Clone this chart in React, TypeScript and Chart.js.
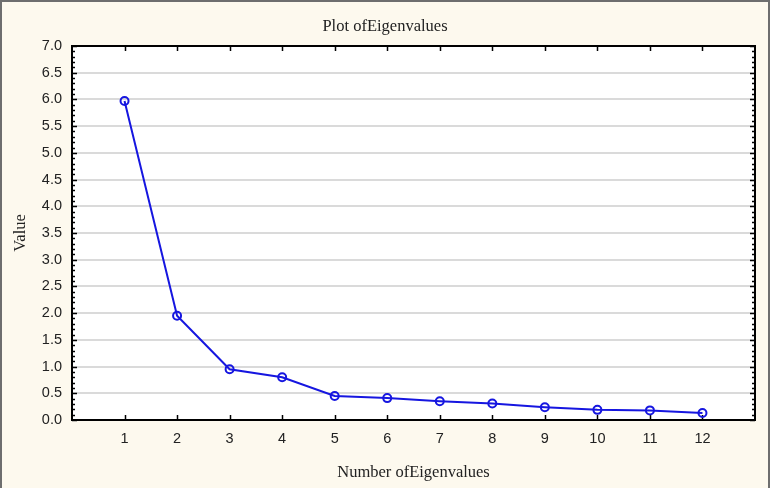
import React, { useEffect, useRef } from 'react';
import { Chart, registerables } from 'chart.js';

Chart.register(...registerables);

const categories = [1, 2, 3, 4, 5, 6, 7, 8, 9, 10, 11, 12];
const eigenvalues = [5.97, 1.95, 0.95, 0.8, 0.45, 0.41, 0.35, 0.31, 0.24, 0.19, 0.18, 0.13];
const yTickValues = [0, 0.5, 1, 1.5, 2, 2.5, 3, 3.5, 4, 4.5, 5, 5.5, 6, 6.5, 7];
const chartTitle = 'Plot ofEigenvalues';
const xTitle = 'Number ofEigenvalues';
const yTitle = 'Value';

const framePlugin = {
  id: 'framePlugin',
  beforeDraw(chart: any) {
    const { ctx, width, height, chartArea: a } = chart;
    ctx.save();
    ctx.fillStyle = '#FDF9EE';
    ctx.fillRect(0, 0, width, height);
    ctx.fillStyle = '#FFFFFF';
    ctx.fillRect(a.left, a.top, a.right - a.left, a.bottom - a.top);
    ctx.strokeStyle = '#6E6E6E';
    ctx.lineWidth = 2;
    ctx.beginPath();
    ctx.moveTo(1, height);
    ctx.lineTo(1, 1);
    ctx.lineTo(width - 1, 1);
    ctx.lineTo(width - 1, height);
    ctx.stroke();
    ctx.restore();
  },
  beforeDatasetsDraw(chart: any) {
    const { ctx, chartArea: a, scales } = chart;
    const xs = scales.x;
    const ys = scales.y;
    ctx.save();
    ctx.strokeStyle = '#000000';
    ctx.lineWidth = 1.5;
    ctx.beginPath();
    categories.forEach((c) => {
      const px = Math.round(xs.getPixelForValue(c)) + 0.5;
      ctx.moveTo(px, a.bottom);
      ctx.lineTo(px, a.bottom - 5);
      ctx.moveTo(px, a.top);
      ctx.lineTo(px, a.top + 5);
    });
    const minorCount = Math.round((ys.max - ys.min) * 10);
    for (let i = 0; i <= minorCount; i++) {
      const v = ys.min + i / 10;
      const py = Math.round(ys.getPixelForValue(v)) + 0.5;
      const len = i % 5 === 0 ? 5 : 3;
      ctx.moveTo(a.left, py);
      ctx.lineTo(a.left + len, py);
      ctx.moveTo(a.right, py);
      ctx.lineTo(a.right - len, py);
    }
    ctx.stroke();
    ctx.lineWidth = 2;
    ctx.strokeRect(a.left, a.top, a.right - a.left, a.bottom - a.top);
    ctx.restore();
  },
};

export default function App() {
  const canvasRef = useRef<HTMLCanvasElement | null>(null);

  useEffect(() => {
    if (!canvasRef.current) return;
    const chart = new Chart(canvasRef.current, {
      type: 'line',
      data: {
        datasets: [
          {
            label: 'Eigenvalues',
            data: categories.map((c, i) => ({ x: c, y: eigenvalues[i] })),
            borderColor: '#1616E0',
            borderWidth: 2,
            pointBackgroundColor: 'rgba(255,255,255,0)',
            pointBorderColor: '#1616E0',
            pointBorderWidth: 2,
            pointRadius: 4,
            tension: 0,
          },
        ],
      },
      options: {
        animation: false,
        responsive: false,
        devicePixelRatio: 1,
        layout: { padding: { left: 0, right: 0, top: 0, bottom: 0 } },
        plugins: {
          legend: { display: false },
          tooltip: { enabled: false },
          title: {
            display: true,
            text: chartTitle,
            color: '#222222',
            font: { family: 'Liberation Serif', size: 16.5, weight: 'normal' },
            padding: { top: 17, bottom: 9.2 },
          },
        },
        scales: {
          x: {
            type: 'linear',
            min: 0,
            max: 13,
            afterBuildTicks: (s: any) => {
              s.ticks = categories.map((v) => ({ value: v }));
            },
            afterFit: (s: any) => {
              s.height = 68;
            },
            grid: { display: false, drawTicks: false },
            border: { display: false },
            ticks: {
              color: '#222222',
              font: { family: 'Liberation Sans', size: 14.5 },
              padding: 10,
              autoSkip: false,
              maxRotation: 0,
              callback: (v: any) => String(v),
            },
            title: {
              display: true,
              text: xTitle,
              color: '#222222',
              font: { family: 'Liberation Serif', size: 16.5 },
              padding: { top: 0, bottom: 5.4 },
            },
          },
          y: {
            type: 'linear',
            min: 0,
            max: 7,
            afterBuildTicks: (s: any) => {
              s.ticks = yTickValues.map((v) => ({ value: v }));
            },
            afterFit: (s: any) => {
              s.width = 72;
            },
            grid: {
              drawTicks: false,
              lineWidth: 2,
              color: (ctx: any) =>
                ctx.tick && (ctx.tick.value === 0 || ctx.tick.value === 7)
                  ? 'rgba(0,0,0,0)'
                  : '#DADADA',
            },
            border: { display: false },
            ticks: {
              color: '#222222',
              font: { family: 'Liberation Sans', size: 14.5 },
              padding: 10,
              autoSkip: false,
              callback: (v: any) => Number(v).toFixed(1),
            },
            title: {
              display: true,
              text: yTitle,
              color: '#222222',
              font: { family: 'Liberation Serif', size: 16.5 },
              padding: { top: 11, bottom: 0 },
            },
          },
          yRight: {
            type: 'linear',
            position: 'right',
            min: 0,
            max: 7,
            afterFit: (s: any) => {
              s.width = 15;
            },
            grid: { display: false, drawTicks: false },
            border: { display: false },
            ticks: { display: false },
          },
        },
      },
      plugins: [framePlugin],
    });
    return () => chart.destroy();
  }, []);

  return (
    <div style={{ position: 'absolute', left: 0, top: 0, width: 770, height: 488 }}>
      <canvas ref={canvasRef} width={770} height={488} />
    </div>
  );
}
